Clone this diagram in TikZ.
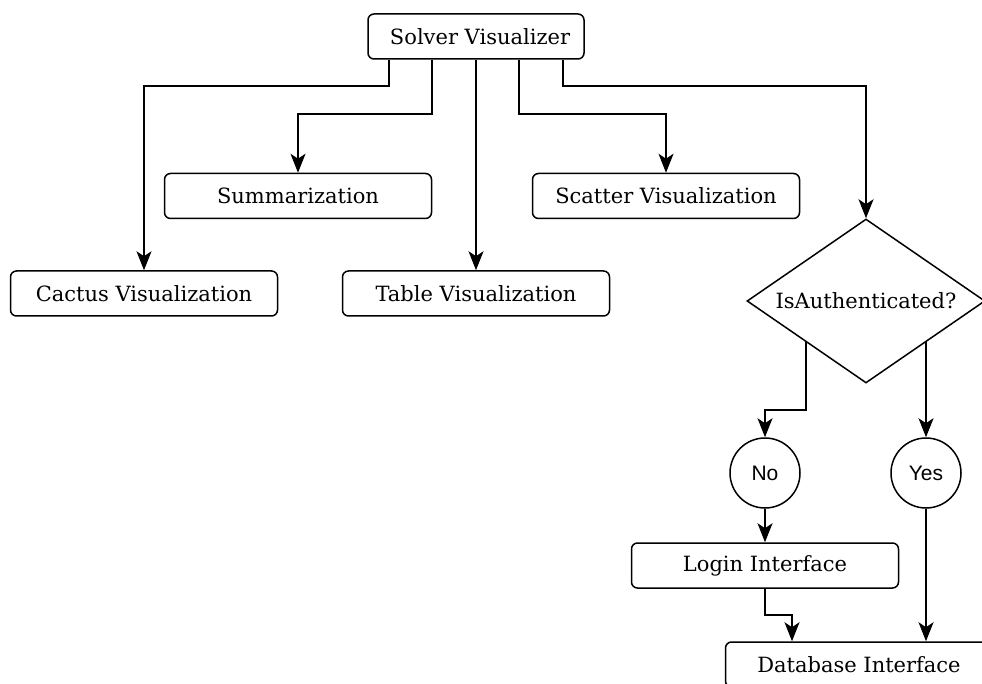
\documentclass[tikz,border=0pt]{standalone}
\usepackage{fontspec}
\setmainfont{DejaVu Serif}
\newfontfamily\circlefont{Liberation Sans}
\usetikzlibrary{shapes.geometric,arrows.meta,calc}

\tikzset{
  box/.style={draw, line width=1.5pt, rounded corners=6pt, minimum width=267pt,
    minimum height=45pt, inner sep=0pt, font=\fontsize{21}{25}\selectfont},
  decision/.style={draw, diamond, aspect=1.45, line width=1.5pt, minimum width=238pt,
    minimum height=164pt, inner sep=0pt, font=\fontsize{21}{25}\selectfont},
  answer/.style={draw, circle, line width=1.5pt, minimum size=70pt, inner sep=0pt,
    font=\circlefont\fontsize{21}{25}\selectfont},
  link/.style={line width=1.6pt, -{Stealth[length=19pt,width=15pt,inset=5pt]}},
}

\begin{document}
\begin{tikzpicture}[x=1pt, y=-1pt]
  \useasboundingbox (0,0) rectangle (982,684);
  \clip (0,0) rectangle (982,684);

  % top-level tool and its views
  \node[box, minimum width=216pt] (solver) at (476,36.5) {\hspace*{8pt}Solver Visualizer};
  \node[box] (summary) at (298,196) {Summarization};
  \node[box] (scatter) at (666,196) {Scatter Visualization};
  \node[box] (cactus) at (144,293.5) {Cactus Visualization};
  \node[box] (table) at (476,293.5) {Table Visualization};

  % authentication branch
  \node[decision] (auth) at (866,301) {IsAuthenticated?};
  \node[answer] (no) at (765,473) {No};
  \node[answer] (yes) at (926,473) {Yes};
  \node[box] (login) at (765,565.5) {Login Interface};
  \node[box] (db) at (859,664.5) {Database Interface};

  % connectors from the top node
  \draw[link] (solver.south -| 389,0) |- (144,86) -- (cactus.north);
  \draw[link] (solver.south -| 432,0) |- (298,114) -- (summary.north);
  \draw[link] (solver.south) -- (table.north);
  \draw[link] (solver.south -| 519,0) |- (666,114) -- (scatter.north);
  \draw[link] (solver.south -| 563,0) |- (866,86) -- (auth.north);

  % decision outcomes
  \coordinate (authL) at ($(auth.south)!0.5!(auth.west)$);
  \coordinate (authR) at ($(auth.south)!0.5!(auth.east)$);
  \draw[link] (authL) |- (765,410) -- (no.north);
  \draw[link] (authR -| yes.north) -- (yes.north);
  \draw[link] (no.south) -- (login.north);
  \draw[link] (login.south) |- (792,615) -- (db.north -| 792,0);
  \draw[link] (yes.south) -- (db.north -| yes.south);
\end{tikzpicture}
\end{document}
